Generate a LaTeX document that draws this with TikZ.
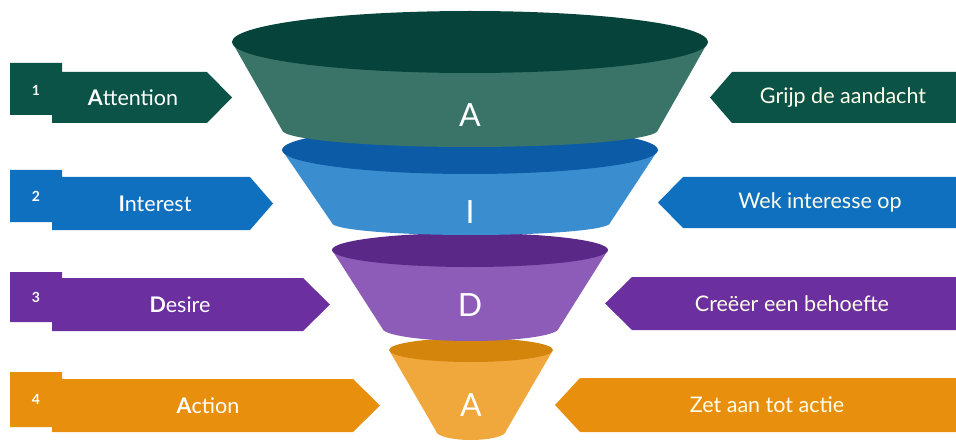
\documentclass[tikz,border=0pt]{standalone}
\usepackage{fontspec}
\setmainfont{Lato}
\definecolor{tealB}{HTML}{0B5346}
\definecolor{tealT}{HTML}{05433B}
\definecolor{tealS}{HTML}{3A7469}
\definecolor{blueB}{HTML}{1070C0}
\definecolor{blueT}{HTML}{0B5BA6}
\definecolor{blueS}{HTML}{3A8ECF}
\definecolor{purpB}{HTML}{6B2F9F}
\definecolor{purpT}{HTML}{5A2886}
\definecolor{purpS}{HTML}{8C5CB8}
\definecolor{oranB}{HTML}{E8900E}
\definecolor{oranT}{HTML}{D4850C}
\definecolor{oranS}{HTML}{F0A73B}
\tikzset{
  lbl/.style={text=white,font=\fontsize{21.5}{24}\selectfont,inner sep=0pt,anchor=center},
  rlbl/.style={text=white!92!yellow,font=\fontsize{21.5}{24}\selectfont,inner sep=0pt,anchor=center},
  num/.style={text=white,font=\bfseries\fontsize{14}{16}\selectfont,inner sep=0pt,anchor=center},
  big/.style={text=white,font=\fontsize{32}{36}\selectfont,inner sep=0pt,anchor=center}
}
\begin{document}
\begin{tikzpicture}[x=1pt,y=-1pt]
\useasboundingbox (0,0) rectangle (956,441);
% ---------- funnel (bottom layer first) ----------
% layer 4
\fill[oranS] (389,350) -- (436,431) arc[start angle=180,end angle=0,x radius=35,y radius=9] -- (553,350) -- cycle;
\fill[oranT] (471,350) ellipse[x radius=82,y radius=12];
% layer 3
\fill[purpS] (332,250) -- (382,328) arc[start angle=180,end angle=0,x radius=88.5,y radius=13] -- (608,250) -- cycle;
\fill[purpT] (470,250) ellipse[x radius=138,y radius=17];
% layer 2
\fill[blueS] (282,150) -- (332,223) arc[start angle=180,end angle=0,x radius=139,y radius=12] -- (658,150) -- cycle;
\fill[blueT] (470,150) ellipse[x radius=188,y radius=24];
% layer 1
\fill[tealS] (232,42) -- (282,130) arc[start angle=180,end angle=0,x radius=188,y radius=17] -- (708,42) -- cycle;
\fill[tealT] (470,42) ellipse[x radius=238,y radius=31];
\node[big] (f1) at (470,115) {A};
\node[big] (f2) at (470,212) {I};
\node[big] (f3) at (470,305) {D};
\node[big] (f4) at (471,405) {A};
% ---------- left banners ----------
\fill[tealB] (10,63) -- (62,63) -- (62,72) -- (207,72) -- (232,97.5) -- (207,123) -- (52,123) -- (52,115) -- (10,115) -- cycle;
\fill[blueB] (10,170) -- (62,170) -- (62,177) -- (250,177) -- (273,203.5) -- (250,230) -- (52,230) -- (52,222) -- (10,222) -- cycle;
\fill[purpB] (10,272) -- (62,272) -- (62,278) -- (303,278) -- (330,304.5) -- (303,331) -- (52,331) -- (52,322) -- (10,322) -- cycle;
\fill[oranB] (10,372) -- (62,372) -- (62,379) -- (353,379) -- (380,405.5) -- (353,432) -- (52,432) -- (52,427) -- (10,427) -- cycle;
\node[num] (n1) at (36,90) {1};
\node[num] (n2) at (36,196) {2};
\node[num] (n3) at (36,297) {3};
\node[num] (n4) at (36,399) {4};
\node[lbl] (l1) at (133,97.5) {\textbf{A}ttention};
\node[lbl] (l2) at (155,203.5) {\textbf{I}nterest};
\node[lbl] (l3) at (180,304.5) {\textbf{D}esire};
\node[lbl] (l4) at (208,405.5) {\textbf{A}ction};
% ---------- right banners ----------
\fill[tealB] (710,97.5) -- (732,72) -- (956,72) -- (956,123) -- (732,123) -- cycle;
\fill[blueB] (658,202.5) -- (683,177) -- (956,177) -- (956,228) -- (683,228) -- cycle;
\fill[purpB] (605,303.5) -- (632,277) -- (956,277) -- (956,330) -- (632,330) -- cycle;
\fill[oranB] (555,405) -- (580,378) -- (956,378) -- (956,432) -- (580,432) -- cycle;
\node[rlbl] (r1) at (843,97.5) {Grijp de aandacht};
\node[rlbl] (r2) at (820,202.5) {Wek interesse op};
\node[rlbl] (r3) at (792,303.5) {Creëer een behoefte};
\node[rlbl] (r4) at (767,405) {Zet aan tot actie};
\end{tikzpicture}
\end{document}
